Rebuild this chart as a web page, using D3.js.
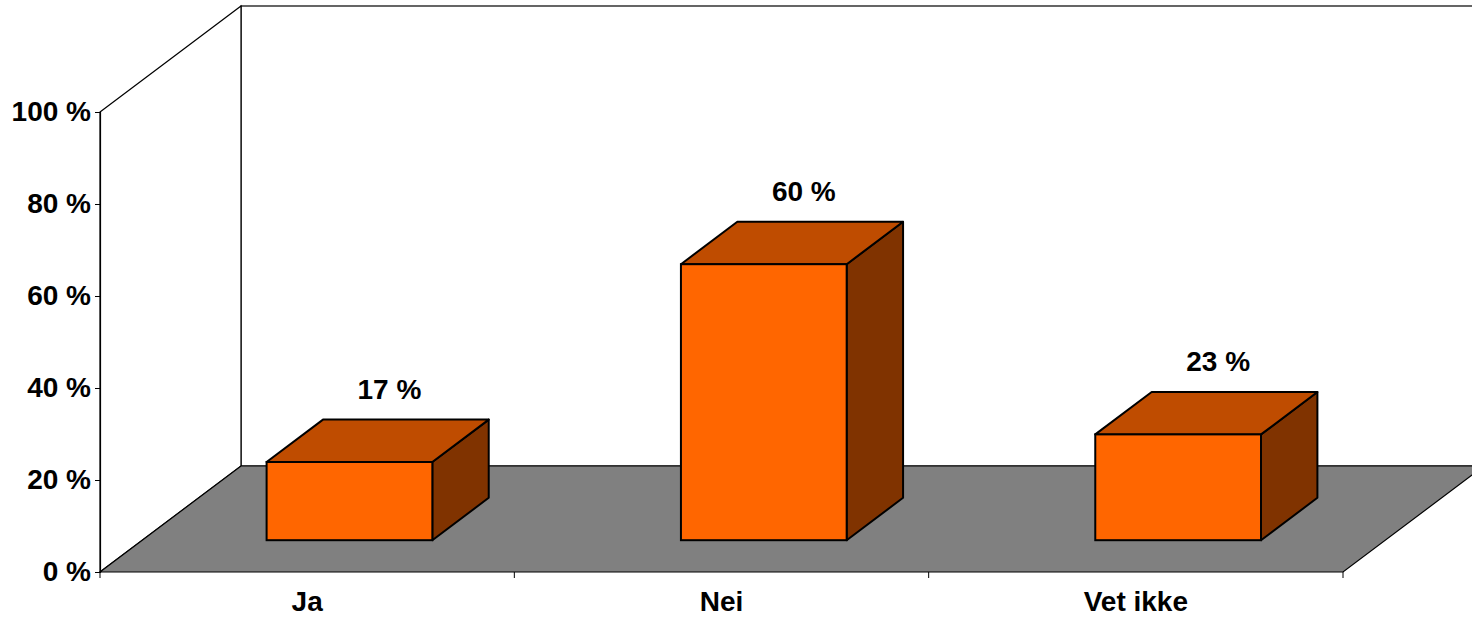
<html>
  <head>
    <meta charset="utf-8">
    <title>Ja / Nei / Vet ikke</title>
    <script src="https://cdnjs.cloudflare.com/ajax/libs/d3/7.8.5/d3.min.js"></script>
    <style>
      body { margin: 0; background: white; }
      text { font-family: Arial, "Liberation Sans", sans-serif; font-weight: bold; }
    </style>
  </head>
  <body>
    <script>
      var categories = ["Ja", "Nei", "Vet ikke"];
      var values = [17, 60, 23];
      var yTicks = [0, 20, 40, 60, 80, 100];

      var chartwidth = 1472;
      var chartheight = 617;
      // note: "top" is a reserved window property, so use plot* names
      var plotLeft = 100, plotRight = 1343, plotBottom = 572, plotTop = 112;
      // offset of the back wall from the front plane
      var depthX = 141, depthY = 106;

      var svg = d3.select("body")
        .append("svg")
        .attr("width", chartwidth)
        .attr("height", chartheight);

      var xScale = d3.scaleBand()
        .domain(categories)
        .range([plotLeft, plotRight])
        .padding(0);

      var yScale = d3.scaleLinear()
        .domain([0, 100])
        .range([plotBottom, plotTop]);

      var pts = function(a) { return a.map(function(p) { return p.join(","); }).join(" "); };

      // back wall
      svg.append("rect")
        .attr("x", plotLeft + depthX)
        .attr("y", plotTop - depthY)
        .attr("width", plotRight - plotLeft)
        .attr("height", plotBottom - plotTop)
        .attr("fill", "white")
        .attr("stroke", "black")
        .attr("stroke-width", 1.2);

      // side wall
      svg.append("polygon")
        .attr("points", pts([[plotLeft, plotTop], [plotLeft + depthX, plotTop - depthY], [plotLeft + depthX, plotBottom - depthY], [plotLeft, plotBottom]]))
        .attr("fill", "white")
        .attr("stroke", "black")
        .attr("stroke-width", 1.2);

      // floor
      svg.append("polygon")
        .attr("points", pts([[plotLeft, plotBottom], [plotRight, plotBottom], [plotRight + depthX, plotBottom - depthY], [plotLeft + depthX, plotBottom - depthY]]))
        .attr("fill", "#808080")
        .attr("stroke", "black")
        .attr("stroke-width", 1.2);

      // bars
      var band = xScale.bandwidth();
      var barW = band * 0.4;
      var offX = depthX * 0.3, offY = depthY * 0.3;
      var bDX = depthX * 0.4, bDY = depthY * 0.4;

      var bars = svg.selectAll(".bar")
        .data(values)
        .enter()
        .append("g")
        .attr("class", "bar");

      bars.each(function(d, i) {
        var g = d3.select(this);
        var fx = xScale(categories[i]) + band * 0.3 + offX;
        var fTop = yScale(d) - offY;
        var fBot = yScale(0) - offY;

        g.append("polygon")
          .attr("points", pts([[fx + barW, fTop], [fx + barW + bDX, fTop - bDY], [fx + barW + bDX, fBot - bDY], [fx + barW, fBot]]))
          .attr("fill", "#803300")
          .attr("stroke", "black")
          .attr("stroke-width", 2)
          .attr("stroke-linejoin", "round");

        g.append("polygon")
          .attr("points", pts([[fx, fTop], [fx + bDX, fTop - bDY], [fx + barW + bDX, fTop - bDY], [fx + barW, fTop]]))
          .attr("fill", "#BF4C00")
          .attr("stroke", "black")
          .attr("stroke-width", 2)
          .attr("stroke-linejoin", "round");

        g.append("rect")
          .attr("x", fx)
          .attr("y", fTop)
          .attr("width", barW)
          .attr("height", fBot - fTop)
          .attr("fill", "#FF6600")
          .attr("stroke", "black")
          .attr("stroke-width", 2);

        g.append("text")
          .attr("x", fx + barW / 2 + 40)
          .attr("y", fTop - 63)
          .attr("text-anchor", "middle")
          .style("font-size", "28px")
          .attr("fill", "black")
          .text(d + " %");
      });

      // y axis
      var yAxis = svg.append("g")
        .attr("transform", "translate(" + plotLeft + ",0)")
        .call(d3.axisLeft(yScale)
          .tickValues(yTicks)
          .tickSize(5)
          .tickPadding(4)
          .tickFormat(function(d) { return d + " %"; }));
      yAxis.select(".domain").attr("stroke", "black").attr("stroke-width", 1.2);
      yAxis.selectAll(".tick line").attr("stroke", "black");
      yAxis.selectAll(".tick text")
        .attr("fill", "black")
        .style("font-size", "28px")
        .style("font-family", "Arial, 'Liberation Sans', sans-serif")
        .style("font-weight", "bold");

      // category ticks on the floor edge
      var edges = categories.map(function(c) { return xScale(c); }).concat([plotRight]);
      svg.selectAll(".xtick")
        .data(edges)
        .enter()
        .append("line")
        .attr("x1", function(d) { return d; })
        .attr("x2", function(d) { return d; })
        .attr("y1", plotBottom)
        .attr("y2", plotBottom + 6)
        .attr("stroke", "black");

      svg.selectAll(".xlabel")
        .data(categories)
        .enter()
        .append("text")
        .attr("x", function(d) { return xScale(d) + band / 2; })
        .attr("y", 611)
        .attr("text-anchor", "middle")
        .style("font-size", "28px")
        .attr("fill", "black")
        .text(function(d) { return d; });
    </script>
  </body>
</html>
